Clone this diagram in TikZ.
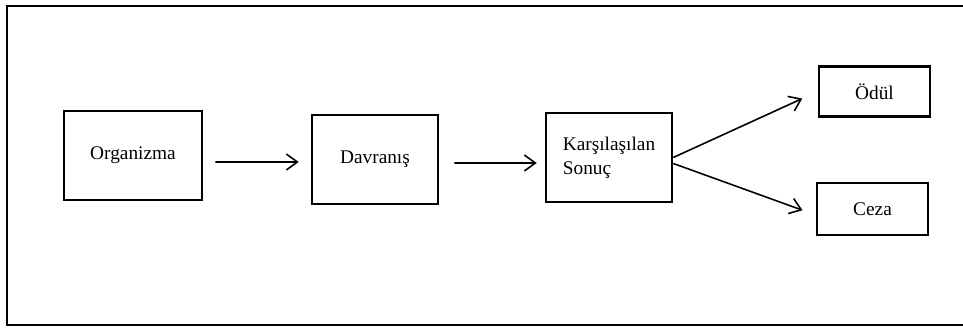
\documentclass[tikz,border=0pt]{standalone}
\usepackage{fontspec}
\setmainfont{Liberation Serif}
\usetikzlibrary{arrows.meta}

\begin{document}
\begin{tikzpicture}[x=0.02cm, y=-0.02cm,
    box/.style={draw, line width=1.5pt, inner sep=0pt, minimum height=1.78cm,
      font=\fontsize{11}{13.5}\selectfont},
    smallbox/.style={box, minimum height=1cm, minimum width=2.22cm},
    flow/.style={line width=0.9pt, -{Straight Barb[length=0.22cm, width=0.32cm]}}]
        \useasboundingbox (0,0) rectangle (963,333);
        \draw[line width=1.1pt] (963,6) -- (7,6) -- (7,325) -- (963,325);
        \node[box, minimum width=2.76cm] (org) at (133,155.5) {Organizma};
        \node[box, minimum width=2.52cm] (dav) at (375,159.5) {Davranış};
        \node[box, minimum width=2.52cm, align=left] (sonuc) at (609,157.5) {Karşılaşılan\\Sonuç};
        \node[smallbox] (odul) at (874.5,91.5) {Ödül};
        \node[smallbox, minimum height=1.04cm] (ceza) at (872.5,209) {Ceza};
        \draw[flow, shorten <=0.24cm, shorten >=0.24cm] ([yshift=-0.13cm]org.east) -- ([yshift=-0.05cm]dav.west);
        \draw[flow, shorten <=0.3cm, shorten >=0.16cm] ([yshift=-0.07cm]dav.east) -- ([yshift=-0.11cm]sonuc.west);
        \draw[flow, shorten >=0.34cm] (sonuc.east) -- (odul.west);
        \draw[flow, shorten >=0.28cm] ([yshift=-0.12cm]sonuc.east) -- ([yshift=-0.12cm]ceza.west);
      \end{tikzpicture}
\end{document}
